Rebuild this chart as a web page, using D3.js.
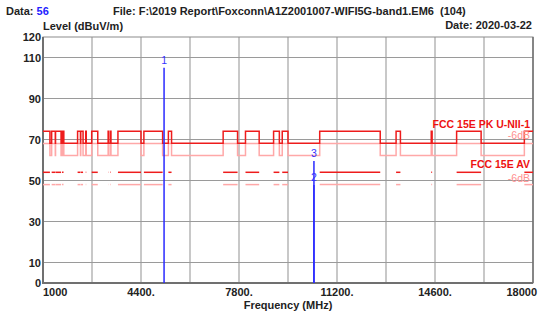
<!DOCTYPE html>
<html>
<head>
<meta charset="utf-8">
<script src="https://cdn.jsdelivr.net/npm/d3@7"></script>
<style>
  body { margin: 0; background: #fff; }
  svg text { font-family: "Liberation Sans", Arial, sans-serif; font-weight: bold; }
</style>
</head>
<body>
<div id="chart"></div>
<script>
// FCC 15.205 restricted bands inside 1-18 GHz (MHz), read from the limit steps
const bandStart = [1000, 1300, 1435, 1645.5, 1660, 1718.8, 2200, 2310, 2483.5, 2690, 3260, 3332, 3345.8, 3600, 4500, 5350, 7250, 8025, 9000, 9300, 10600, 13250, 14470, 15350, 17700];
const bandEnd   = [1240, 1427, 1626.5, 1646.5, 1710, 1722.2, 2300, 2390, 2500, 2900, 3267, 3339, 3358, 4400, 5150, 5460, 7750, 8500, 9200, 9500, 12700, 13400, 14500, 16200, 18000];

// limit levels (dBuV/m)
const pkRestricted = 74;
const pkOther = 68.2;
const avRestricted = 54;
const marginDb = 6;

// markers
const markerNo   = ["1", "2", "3"];
const markerFreq = [5200, 10400, 10400];
const markerLvl  = [105, 47.8, 59.5];

const xTicks = [1000, 4400, 7800, 11200, 14600, 18000];
const xTickLabels = ["1000", "4400.", "7800.", "11200.", "14600.", "18000"];
const yTicks = [0, 10, 30, 50, 70, 90, 110, 120];
const yGrid = [10, 30, 50, 70, 90, 110];

const W = 547, H = 318;
const margin = { top: 37, right: 14, bottom: 35, left: 43 };

const svg = d3.select("#chart").append("svg")
    .attr("width", W).attr("height", H);

const x = d3.scaleLinear().domain([1000, 18000]).range([margin.left, W - margin.right]);
const y = d3.scaleLinear().domain([0, 120]).range([H - margin.bottom, margin.top]);

// vertical grid every 1700 MHz
const xGrid = d3.range(1, 10).map(i => 1000 + i * 1700);
svg.append("g").selectAll("line")
    .data(xGrid).enter().append("line")
    .attr("x1", d => x(d)).attr("x2", d => x(d))
    .attr("y1", y(120)).attr("y2", y(0))
    .attr("stroke", "#c8c8c8").attr("stroke-width", 2);

svg.append("g").selectAll("line")
    .data(yGrid).enter().append("line")
    .attr("x1", x(1000)).attr("x2", x(18000))
    .attr("y1", d => y(d)).attr("y2", d => y(d))
    .attr("stroke", "#9a9a9a").attr("stroke-width", 1);

// frame
svg.append("rect")
    .attr("x", x(1000)).attr("y", y(120))
    .attr("width", x(18000) - x(1000)).attr("height", y(0) - y(120))
    .attr("fill", "none").attr("stroke", "#8c8c8c").attr("stroke-width", 1);
svg.append("line")
    .attr("x1", x(1000)).attr("x2", x(1000)).attr("y1", y(120)).attr("y2", y(0) + 1)
    .attr("stroke", "#707070").attr("stroke-width", 2);
svg.append("line")
    .attr("x1", x(1000) - 1).attr("x2", x(18000)).attr("y1", y(0)).attr("y2", y(0))
    .attr("stroke", "#707070").attr("stroke-width", 2);
svg.append("line")
    .attr("x1", x(18000)).attr("x2", x(18000)).attr("y1", y(120)).attr("y2", y(0))
    .attr("stroke", "#707070").attr("stroke-width", 1.5);

// build step points for the PK limit
function pkPoints(offset) {
    const pts = [];
    let f = 1000;
    bandStart.forEach((s, i) => {
        if (s > f) { pts.push([f, pkOther - offset]); }
        pts.push([s, pkRestricted - offset]);
        f = bandEnd[i];
    });
    if (f < 18000) pts.push([f, pkOther - offset]);
    pts.push([18000, pts[pts.length - 1][1]]);
    return pts;
}

const stepLine = d3.line()
    .x(d => x(d[0])).y(d => y(d[1]))
    .curve(d3.curveStepAfter);

const pink = "#ffa8a8", red = "#ee1c1c";

svg.append("path").datum(pkPoints(marginDb))
    .attr("d", stepLine)
    .attr("fill", "none").attr("stroke", pink).attr("stroke-width", 1.5);
svg.append("path").datum(pkPoints(0))
    .attr("d", stepLine)
    .attr("fill", "none").attr("stroke", red).attr("stroke-width", 1.5);

// AV limit only inside restricted bands
const avBands = bandStart.map((s, i) => [s, bandEnd[i]]);
svg.append("g").selectAll("line")
    .data(avBands).enter().append("line")
    .attr("x1", d => x(d[0])).attr("x2", d => x(d[1]))
    .attr("y1", y(avRestricted - marginDb)).attr("y2", y(avRestricted - marginDb))
    .attr("stroke", pink).attr("stroke-width", 1.5);
svg.append("g").selectAll("line")
    .data(avBands).enter().append("line")
    .attr("x1", d => x(d[0])).attr("x2", d => x(d[1]))
    .attr("y1", y(avRestricted)).attr("y2", y(avRestricted))
    .attr("stroke", red).attr("stroke-width", 1.5);

// limit labels
const lblX = x(18000) - 3;
svg.append("text").attr("x", lblX).attr("y", y(pkRestricted) - 3)
    .attr("text-anchor", "end").attr("font-size", 10.5).attr("fill", "#ee1111")
    .text("FCC 15E PK U-NII-1");
svg.append("text").attr("x", lblX).attr("y", y(pkOther) - 4)
    .attr("text-anchor", "end").attr("font-size", 10.5).attr("fill", "#ff9090")
    .style("font-weight", "normal").text("-6dB");
svg.append("text").attr("x", lblX).attr("y", y(avRestricted) - 4)
    .attr("text-anchor", "end").attr("font-size", 10.5).attr("fill", "#ee1111")
    .text("FCC 15E AV");
svg.append("text").attr("x", lblX).attr("y", y(avRestricted - marginDb) - 3)
    .attr("text-anchor", "end").attr("font-size", 10.5).attr("fill", "#ff9090")
    .style("font-weight", "normal").text("-6dB");

// markers
const markers = markerNo.map((n, i) => ({ n: n, f: markerFreq[i], v: markerLvl[i] }));
svg.append("g").selectAll("line")
    .data(markers).enter().append("line")
    .attr("x1", d => x(d.f)).attr("x2", d => x(d.f))
    .attr("y1", d => y(d.v)).attr("y2", y(0))
    .attr("stroke", "#2a2aff").attr("stroke-width", 1.5);
svg.append("g").selectAll("text")
    .data(markers).enter().append("text")
    .attr("x", d => x(d.f)).attr("y", d => y(d.v) - 4)
    .attr("text-anchor", "middle").attr("font-size", 10.5)
    .attr("fill", "#3333ff").style("font-weight", "normal")
    .text(d => d.n);

// axis labels
svg.append("g").selectAll("text")
    .data(yTicks).enter().append("text")
    .attr("x", x(1000) - 2).attr("y", d => y(d) + 4)
    .attr("text-anchor", "end").attr("font-size", 11).attr("fill", "#222")
    .text(d => d);

svg.append("g").selectAll("text")
    .data(xTicks).enter().append("text")
    .attr("x", (d, i) => i === 0 ? x(d) : (i === xTicks.length - 1 ? x(d) + 4 : x(d)))
    .attr("y", y(0) + 13)
    .attr("text-anchor", (d, i) => i === 0 ? "start" : (i === xTicks.length - 1 ? "end" : "middle"))
    .attr("font-size", 11).attr("fill", "#222")
    .text((d, i) => xTickLabels[i]);

svg.append("text").attr("x", 288).attr("y", 309)
    .attr("text-anchor", "middle").attr("font-size", 11).attr("fill", "#222")
    .text("Frequency (MHz)");

svg.append("text").attr("x", x(1000)).attr("y", 30)
    .attr("font-size", 11).attr("fill", "#222").text("Level (dBuV/m)");

svg.append("text").attr("x", x(18000) - 1).attr("y", 29)
    .attr("text-anchor", "end").attr("font-size", 11).attr("fill", "#222")
    .text("Date: 2020-03-22");

const hdr = svg.append("text").attr("x", 6).attr("y", 15).attr("font-size", 11).attr("fill", "#222");
hdr.append("tspan").text("Data: ");
hdr.append("tspan").attr("fill", "#2222ff").text("56");

svg.append("text").attr("x", 113).attr("y", 15).attr("font-size", 11).attr("fill", "#222")
    .attr("xml:space", "preserve")
    .text("File: F:\\2019 Report\\Foxconn\\A1Z2001007-WIFI5G-band1.EM6  (104)");
</script>
</body>
</html>
